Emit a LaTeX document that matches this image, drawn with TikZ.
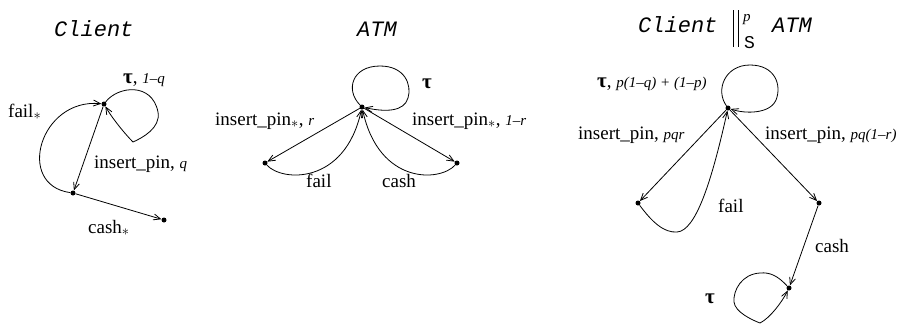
\documentclass[tikz,border=0pt]{standalone}
\usepackage{fontspec}
\setmainfont{Liberation Serif}
\setmonofont{Liberation Mono}
\usetikzlibrary{arrows.meta}

% small italic probability annotations
\newcommand\probtxt[1]{{\fontsize{15}{17}\selectfont\itshape #1}}
\newcommand\tautxt{{\fontsize{21}{22}\selectfont\bfseries τ}}
\newcommand\anyact{$_{\ast}$}

\begin{document}
\begin{tikzpicture}[x=1pt,y=-1pt,
  state/.style={circle,fill=black,inner sep=0pt,minimum size=5pt},
  lbl/.style={inner sep=0pt,anchor=base west,font=\fontsize{19}{22}\selectfont},
  ttl/.style={inner sep=0pt,anchor=base west,font=\fontsize{22}{24}\selectfont\ttfamily\itshape},
  trans/.style={line width=0.8pt,-{Straight Barb[length=7pt,width=6pt]}},
]
\useasboundingbox (0,0) rectangle (917,325);

% ---------------- Client ----------------
\node[ttl] (tClient) at (54,36) {Client};
\node[state] (c0) at (104,104) {};
\node[state] (c1) at (73,193) {};
\node[state] (c2) at (164,220) {};

\draw[trans] (c0) .. controls (118,86) and (152,82) .. (158,112)
  .. controls (161,128) and (142,138) .. (133,142)
  .. controls (125,134) and (112,118) .. (c0);
\draw[trans] (c1) .. controls (15,185) and (40,98) .. (c0);
\draw[trans] (c0) -- (c1);
\draw[trans] (c1) -- (c2);

\node[lbl] (lc1) at (123,83) {\tautxt, \probtxt{1–q}};
\node[lbl] (lc2) at (8,117) {fail\anyact};
\node[lbl] (lc3) at (94,168) {insert\_pin, \probtxt{q}};
\node[lbl] (lc4) at (88,233) {cash\anyact};

% ---------------- ATM ----------------
\node[ttl] (tATM) at (357,36) {ATM};
\node[state] (a0) at (362,107) {};
\node[state] (a1) at (265,163) {};
\node[state] (a2) at (457,163) {};

\draw[trans] (a0) .. controls (345,90) and (352,66) .. (380,66)
  .. controls (405,66) and (412,85) .. (408,98)
  .. controls (404,112) and (385,112) .. (a0);
\draw[trans] (a0) -- (a1);
\draw[trans] (a0) -- (a2);
\draw[trans] (a1) .. controls (282,182) and (345,185) .. (a0);
\draw[trans] (a2) .. controls (440,182) and (379,185) .. (a0);

\node[lbl] (la1) at (422,88) {\tautxt};
\node[lbl] (la2) at (215,125) {insert\_pin\anyact, \probtxt{r}};
\node[lbl] (la3) at (412,125) {insert\_pin\anyact, \probtxt{1–r}};
\node[lbl] (la4) at (306,187) {fail};
\node[lbl] (la5) at (382,187) {cash};

% ---------------- Client ||^p_S ATM ----------------
\node[ttl] (tc1) at (638,32) {Client};
\draw[line width=0.8pt] (733,10) -- (733,47) (738,10) -- (738,47);
\node[inner sep=0pt,anchor=base west] (tcp) at (743,21) {\probtxt{p}};
\node[inner sep=0pt,anchor=base west,font=\fontsize{18}{20}\selectfont\ttfamily] (tcs) at (744,48) {S};
\node[ttl] (tc2) at (772,32) {ATM};

\node[state] (p0) at (728,108) {};
\node[state] (p1) at (638,203) {};
\node[state] (p2) at (819,203) {};
\node[state] (p3) at (789,288) {};

\draw[trans] (p0) .. controls (715,90) and (725,65) .. (750,65)
  .. controls (775,65) and (782,85) .. (776,100)
  .. controls (770,114) and (745,114) .. (p0);
\draw[trans] (p0) -- (p1);
\draw[trans] (p0) -- (p2);
\draw[trans] (p1) .. controls (652,222) and (664,233) .. (677,232)
  .. controls (696,231) and (712,180) .. (p0);
\draw[trans] (p2) -- (p3);
\draw[trans] (p3) .. controls (778,276) and (770,272) .. (760,273)
  .. controls (742,274) and (733,290) .. (734,302)
  .. controls (735,312) and (752,320) .. (760,323)
  .. controls (770,318) and (782,302) .. (p3);

\node[lbl] (lp1) at (597,87) {\tautxt, \probtxt{p(1–q) + (1–p)}};
\node[lbl] (lp2) at (578,139) {insert\_pin, \probtxt{pqr}};
\node[lbl] (lp3) at (765,139) {insert\_pin, \probtxt{pq(1–r)}};
\node[lbl] (lp4) at (718,212) {fail};
\node[lbl] (lp5) at (815,252) {cash};
\node[lbl] (lp6) at (705,303) {\tautxt};
\end{tikzpicture}
\end{document}
